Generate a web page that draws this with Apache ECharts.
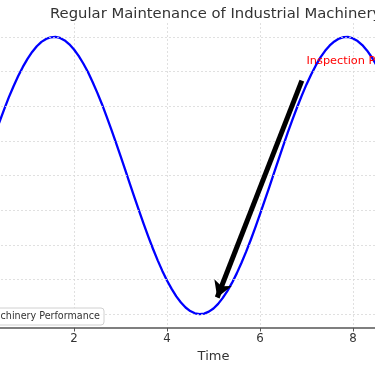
<!DOCTYPE html>
<html><head><meta charset="utf-8">
<script src="https://cdn.jsdelivr.net/npm/echarts@6/dist/echarts.min.js"></script>
<style>html,body{margin:0;padding:0;background:#fff}#c{width:375px;height:366px}</style>
</head><body><div id="c"></div>
<script>
const timeValues = [0.2,0.3,0.4,0.5,0.6,0.7,0.8,0.9,1.0,1.1,1.2,1.3,1.4,1.5,1.6,1.7,1.8,1.9,2.0,2.1,2.2,2.3,2.4,2.5,2.6,2.7,2.8,2.9,3.0,3.1,3.2,3.3,3.4,3.5,3.6,3.7,3.8,3.9,4.0,4.1,4.2,4.3,4.4,4.5,4.6,4.7,4.8,4.9,5.0,5.1,5.2,5.3,5.4,5.5,5.6,5.7,5.8,5.9,6.0,6.1,6.2,6.3,6.4,6.5,6.6,6.7,6.8,6.9,7.0,7.1,7.2,7.3,7.4,7.5,7.6,7.7,7.8,7.9,8.0,8.1,8.2,8.3,8.4,8.5,8.6];
const performance = [0.199,0.296,0.389,0.479,0.565,0.644,0.717,0.783,0.841,0.891,0.932,0.964,0.985,0.997,1.000,0.992,0.974,0.946,0.909,0.863,0.808,0.746,0.675,0.598,0.516,0.427,0.335,0.239,0.141,0.042,-0.058,-0.158,-0.256,-0.351,-0.443,-0.530,-0.612,-0.688,-0.757,-0.818,-0.872,-0.916,-0.952,-0.978,-0.994,-1.000,-0.996,-0.982,-0.959,-0.926,-0.883,-0.832,-0.773,-0.706,-0.631,-0.551,-0.465,-0.374,-0.279,-0.182,-0.083,0.017,0.117,0.215,0.312,0.405,0.494,0.578,0.657,0.729,0.794,0.852,0.899,0.938,0.967,0.988,0.998,0.999,0.989,0.970,0.941,0.902,0.855,0.798,0.734];
const yGridValues = [-1,-0.75,-0.5,-0.25,0,0.25,0.5,0.75,1];
const annotationText = 'Inspection Point';
const annotationTextPos = [7.0, 0.8];
const arrowStart = [6.9, 0.685];
const arrowEnd = [5.08, -0.88];
const titleText = 'Regular Maintenance of Industrial Machinery';
const legendText = 'Machinery Performance';
const xName = 'Time';

const chart = echarts.init(document.getElementById('c'), null, {renderer:'canvas'});
const font = 'DejaVu Sans';
chart.setOption({
  animation: false,
  backgroundColor: '#fff',
  grid: {left: -19, right: -71, top: 23, bottom: 38, containLabel: false, outerBoundsMode: 'none'},
  xAxis: {
    type: 'value', min: 0, max: 10, interval: 2,
    name: xName, nameLocation: 'middle', nameGap: 17,
    nameTextStyle: {fontFamily: font, fontSize: 13, color: '#333'},
    axisLine: {show: true, onZero: false, lineStyle: {color: '#555', width: 1.5}},
    axisTick: {show: true, length: 3.5, lineStyle: {color: '#555', width: 1}},
    axisLabel: {fontFamily: font, fontSize: 11.8, color: '#333', margin: 5},
    splitLine: {show: true, lineStyle: {color: '#d8d8d8', width: 0.8, type: [2, 2]}}
  },
  yAxis: {
    type: 'value', min: -1.1, max: 1.1,
    axisLine: {show: false}, axisTick: {show: false}, axisLabel: {show: false},
    splitLine: {show: false}
  },
  series: [
    {
      type: 'line', data: [], z: 1, silent: true,
      markLine: {
        silent: true, symbol: 'none', animation: false,
        label: {show: false},
        lineStyle: {color: '#d8d8d8', width: 0.8, type: [2, 2]},
        data: yGridValues.map(v => ({yAxis: v}))
      }
    },
    {
      type: 'line', name: legendText, z: 3,
      data: timeValues.map((t, i) => [t, performance[i]]),
      smooth: false, showSymbol: false,
      lineStyle: {color: '#0000ff', width: 2.3, join: 'round', cap: 'round'},
      itemStyle: {color: '#0000ff'},
      markLine: {
        silent: true, animation: false,
        symbol: ['none', 'arrow'], symbolSize: [14, 16],
        label: {show: false},
        lineStyle: {color: '#000', width: 5, type: 'solid'},
        itemStyle: {color: '#000'},
        data: [[{coord: arrowStart}, {coord: arrowEnd}]]
      },
      markPoint: {
        silent: true, animation: false,
        symbol: 'circle', symbolSize: 0,
        data: [{coord: annotationTextPos}],
        label: {
          show: true, formatter: annotationText, position: 'inside',
          align: 'left', verticalAlign: 'bottom', offset: [0, 2],
          color: '#ff0000', fontFamily: font, fontSize: 11.3
        }
      }
    }
  ],
  graphic: [
    {type: 'text', left: 50, top: 7, z: 10,
     style: {text: titleText, fontFamily: font, fontSize: 14.8, fill: '#333'}},
    {type: 'rect', z: 10, shape: {x: -6, y: 308, width: 110, height: 17, r: 3},
     style: {fill: 'rgba(255,255,255,0.85)', stroke: '#d0d0d0', lineWidth: 1}},
    {type: 'text', z: 11, x: 100, y: 316.5,
     style: {text: legendText, fontFamily: font, fontSize: 9.6, fill: '#333', align: 'right', verticalAlign: 'middle'}}
  ]
});
</script></body></html>
